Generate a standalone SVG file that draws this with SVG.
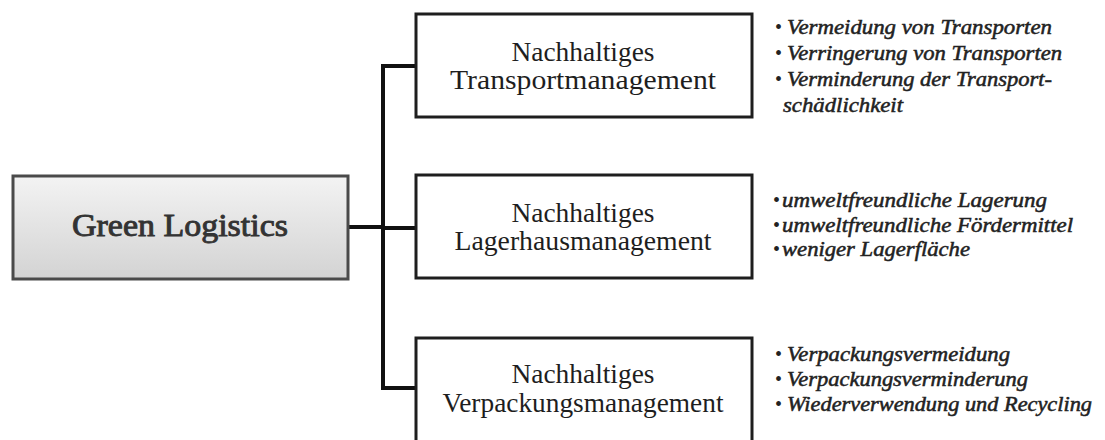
<svg xmlns="http://www.w3.org/2000/svg" width="1105" height="440" viewBox="0 0 1105 440">
<defs>
<linearGradient id="gray" x1="0" y1="0" x2="0" y2="1">
<stop offset="0" stop-color="#f3f3f3"/>
<stop offset="1" stop-color="#d3d3d3"/>
</linearGradient>
</defs>
<style>
.box{fill:#fff;stroke:#1e1e1e;stroke-width:3}
.root{fill:url(#gray);stroke:#4a4a4a;stroke-width:3}
.lbl{font-family:"Liberation Serif",serif;font-size:28px;fill:#1e1e1e;text-anchor:middle}
.rootlbl{font-family:"Liberation Serif",serif;font-size:31px;fill:#333;stroke:#333;stroke-width:0.9;text-anchor:middle}
.li{font-family:"Liberation Serif",serif;font-size:20px;font-style:italic;fill:#222;stroke:#222;stroke-width:0.5}
.bul{font-family:"Liberation Serif",serif;font-size:20px;fill:#222}
.conn{fill:none;stroke:#111;stroke-width:4}
</style>
<rect width="1105" height="440" fill="#fff"/>
<g id="connectors">
<path class="conn" d="M348 227 H383"/>
<path class="conn" d="M383 66 V388"/>
<path class="conn" d="M381 66 H415"/>
<path class="conn" d="M383 228 H415"/>
<path class="conn" d="M381 388 H415"/>
</g>
<g id="green-logistics">
<rect class="root" x="13" y="176" width="335" height="103"/>
<text class="rootlbl" x="180" y="236" textLength="216" lengthAdjust="spacingAndGlyphs">Green Logistics</text>
</g>
<g id="transport">
<rect class="box" x="416" y="14" width="336" height="103"/>
<text class="lbl" x="583" y="61" textLength="143" lengthAdjust="spacingAndGlyphs">Nachhaltiges</text>
<text class="lbl" x="583" y="89" textLength="266" lengthAdjust="spacingAndGlyphs">Transportmanagement</text>
</g>
<g id="lager">
<rect class="box" x="416" y="175" width="336" height="103"/>
<text class="lbl" x="583" y="222" textLength="143" lengthAdjust="spacingAndGlyphs">Nachhaltiges</text>
<text class="lbl" x="583" y="250" textLength="257" lengthAdjust="spacingAndGlyphs">Lagerhausmanagement</text>
</g>
<g id="verpackung">
<rect class="box" x="416" y="338" width="336" height="104"/>
<text class="lbl" x="583" y="383" textLength="143" lengthAdjust="spacingAndGlyphs">Nachhaltiges</text>
<text class="lbl" x="583" y="412" textLength="281" lengthAdjust="spacingAndGlyphs">Verpackungsmanagement</text>
</g>
<g id="list-transport">
<text class="bul" x="775" y="34">•</text>
<text class="li" x="787" y="34" textLength="265" lengthAdjust="spacingAndGlyphs">Vermeidung von Transporten</text>
<text class="bul" x="775" y="60">•</text>
<text class="li" x="787" y="60" textLength="275" lengthAdjust="spacingAndGlyphs">Verringerung von Transporten</text>
<text class="bul" x="775" y="86">•</text>
<text class="li" x="787" y="86" textLength="265" lengthAdjust="spacingAndGlyphs">Verminderung der Transport-</text>
<text class="li" x="783" y="112" textLength="120" lengthAdjust="spacingAndGlyphs">schädlichkeit</text>
</g>
<g id="list-lager">
<text class="bul" x="773" y="207">•</text>
<text class="li" x="782" y="207" textLength="265" lengthAdjust="spacingAndGlyphs">umweltfreundliche Lagerung</text>
<text class="bul" x="773" y="232">•</text>
<text class="li" x="782" y="232" textLength="291" lengthAdjust="spacingAndGlyphs">umweltfreundliche Fördermittel</text>
<text class="bul" x="773" y="256">•</text>
<text class="li" x="782" y="256" textLength="188" lengthAdjust="spacingAndGlyphs">weniger Lagerfläche</text>
</g>
<g id="list-verpackung">
<text class="bul" x="775" y="361">•</text>
<text class="li" x="787" y="361" textLength="223" lengthAdjust="spacingAndGlyphs">Verpackungsvermeidung</text>
<text class="bul" x="775" y="386">•</text>
<text class="li" x="787" y="386" textLength="241" lengthAdjust="spacingAndGlyphs">Verpackungsverminderung</text>
<text class="bul" x="775" y="411">•</text>
<text class="li" x="787" y="411" textLength="305" lengthAdjust="spacingAndGlyphs">Wiederverwendung und Recycling</text>
</g>
</svg>
